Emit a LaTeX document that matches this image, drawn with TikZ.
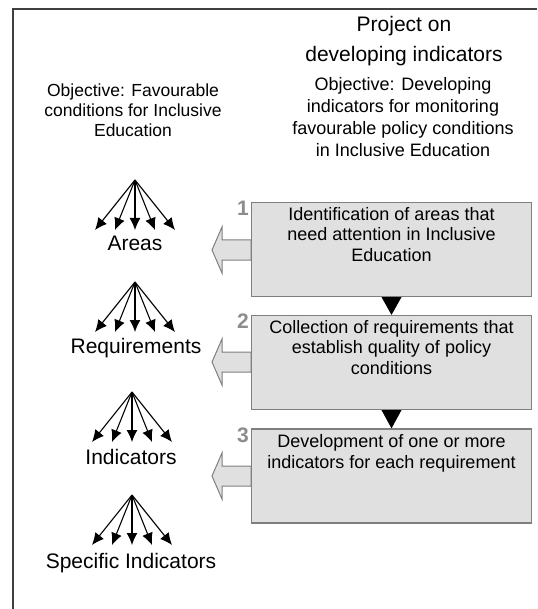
\documentclass[tikz,border=0pt]{standalone}
\usepackage{fontspec}
\setmainfont{Liberation Sans}
\usepackage{tikz}
\usetikzlibrary{calc,shapes,arrows.meta}
\definecolor{boxfill}{HTML}{E0E0E0}
\definecolor{boxline}{HTML}{7F7F7F}
\definecolor{numgray}{HTML}{8C8C8C}
\definecolor{framegray}{HTML}{404040}

\tikzset{
  stepbox/.style={draw=boxline, fill=boxfill, line width=1.2pt,
    minimum width=280pt, minimum height=94pt, inner sep=0pt},
  boxtext/.style={anchor=north, align=center, inner sep=0pt,
    font=\fontsize{18}{20.5}\selectfont},
  fan/.style={line width=1.1pt, -{Latex[length=12pt,width=11pt]}},
  level/.style={inner sep=0pt, font=\fontsize{21}{24}\selectfont},
  stepnum/.style={inner sep=0pt, text=numgray, font=\bfseries\fontsize{21}{24}\selectfont},
  hollow/.style={draw=boxline, fill=boxfill, line width=1pt},
}

\begin{document}
\begin{tikzpicture}[x=1pt,y=-1pt]
    \useasboundingbox (0,0) rectangle (537,609);
    % frame (cut off at right and bottom)
    \draw[framegray, line width=2pt] (13,609) -- (13,9) -- (537,9);

    % headings
    \node[align=center, font=\fontsize{21}{30}\selectfont] (project) at (404,41)
        {Project on\\developing indicators};
    \node[align=center, font=\fontsize{18}{22}\selectfont] (objright) at (403,117)
        {Objective: Developing\\indicators for monitoring\\favourable policy conditions\\in Inclusive Education};
    \node[align=center, font=\fontsize{17.5}{20}\selectfont] (objleft) at (133,110)
        {Objective: Favourable\\conditions for Inclusive\\Education};

    % hollow arrows (drawn first, boxes on top)
    \foreach \y in {250,362,476}
        \draw[hollow] (251,\y) ++(0,-10) -- ++(-29,0) -- ++(0,-13) -- ++(-10,23)
            -- ++(10,23) -- ++(0,-13) -- ++(29,0) -- cycle;

    % steps
    \node[stepbox] (box1) at (391.5,249.5) {};
    \node[stepbox] (box2) at (391.5,362.5) {};
    \node[stepbox] (box3) at (391.5,476) {};
    \node[boxtext] (txt1) at ($(box1.north)+(0,5)$)
        {Identification of areas that\\need attention in Inclusive\\Education};
    \node[boxtext] (txt2) at ($(box2.north)+(0,5)$)
        {Collection of requirements that\\establish quality of policy\\conditions};
    \node[boxtext] (txt3) at ($(box3.north)+(0,6)$)
        {Development of one or more\\indicators for each requirement};
    \foreach \n in {1,2,3}
        \node[stepnum, anchor=north east] (num\n) at ($(box\n.north west)+(-2,-1)$) {\n};

    % black triangles between the steps
    \fill (box1.south) ++(-10,0) -- ++(20,0) -- (box2.north) -- cycle;
    \fill (box2.south) ++(-10,0) -- ++(20,0) -- (box3.north) -- cycle;

    % fans and levels
    \coordinate (fan1) at (135,180);
    \coordinate (fan2) at (135,282);
    \coordinate (fan3) at (132,392);
    \coordinate (fan4) at (132,495);
    \foreach \f in {1,...,4}
        \foreach \dx in {-40,-20,0,20,40}
            \draw[fan] (fan\f) -- ++(\dx,50);
    \node[level] (areas) at (135,243) {Areas};
    \node[level] (requirements) at (136,348) {Requirements};
    \node[level] (indicators) at (131,457) {Indicators};
    \node[level] (specific) at (131,563) {Specific Indicators};
\end{tikzpicture}
\end{document}
